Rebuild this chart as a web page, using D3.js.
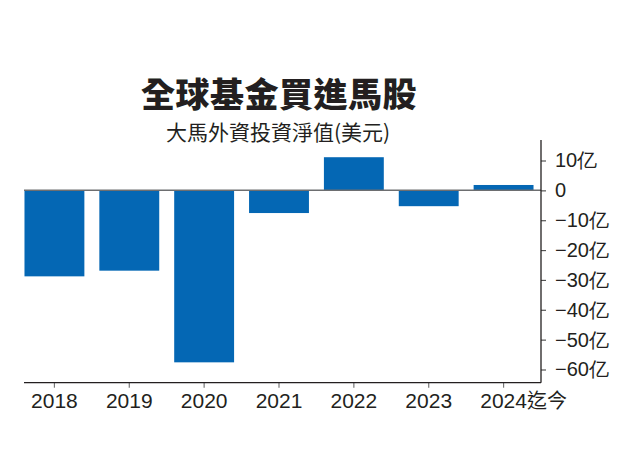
<!DOCTYPE html>
<html>
<head>
<meta charset="utf-8">
<script src="https://cdn.jsdelivr.net/npm/d3@7"></script>
<style>
  body { margin: 0; background: #fff; }
  svg text { fill: #231f20; }
</style>
</head>
<body>
<div id="chart"></div>
<script>
// data
var years = ["2018", "2019", "2020", "2021", "2022", "2023", "2024"];
var values = [-28.8, -26.9, -57.6, -7.6, 11.1, -5.3, 1.8];
var yTicks = [10, 0, -10, -20, -30, -40, -50, -60];
var lastSuffix = "迄今";

var width = 630, height = 472;
var numFont = "'Liberation Sans', Arial, sans-serif";
var cjkFont = "'Noto Sans CJK TC', 'Noto Sans CJK SC', sans-serif";

var svg = d3.select("#chart").append("svg")
    .attr("width", width)
    .attr("height", height);

// titles
svg.append("text")
    .attr("x", 279).attr("y", 107)
    .attr("text-anchor", "middle")
    .style("font-family", cjkFont)
    .style("font-weight", 900)
    .style("font-size", "34px")
    .style("letter-spacing", "0.5px")
    .text("全球基金買進馬股");

svg.append("text")
    .attr("x", 278).attr("y", 140)
    .attr("text-anchor", "middle")
    .style("font-family", cjkFont)
    .style("font-size", "21px")
    .text("大馬外資投資淨值(美元)");

var x = d3.scaleBand()
    .domain(years)
    .range([17, 541])
    .paddingInner(0.2)
    .paddingOuter(0.1);

var y = d3.scaleLinear()
    .domain([-60, 10])
    .range([369.5, 160.5]);

var axisX = 541, baseY = 382.7;

// bars
svg.append("g")
    .selectAll("rect")
    .data(values)
    .join("rect")
    .attr("x", function(d, i) { return x(years[i]); })
    .attr("width", x.bandwidth())
    .attr("y", function(d) { return y(Math.max(0, d)); })
    .attr("height", function(d) { return Math.abs(y(d) - y(0)); })
    .attr("fill", "#0467b4");

// zero line
svg.append("line")
    .attr("x1", 24).attr("x2", axisX)
    .attr("y1", y(0)).attr("y2", y(0))
    .attr("stroke", "#6d6e70")
    .attr("stroke-width", 1.5);

// y axis on the right
var gy = svg.append("g")
    .attr("transform", "translate(" + axisX + ",0)")
    .call(d3.axisRight(y)
        .tickValues(yTicks)
        .tickSize(5)
        .tickPadding(9)
        .tickFormat(function(d) { return d === 0 ? "0" : (d < 0 ? "\u2212" + (-d) : d) + "亿"; }));
gy.select(".domain").remove();
gy.selectAll(".tick line").attr("stroke", "#555").attr("stroke-width", 1.2);
gy.selectAll(".tick text")
    .style("font-family", numFont)
    .style("font-size", "20px")
    .attr("fill", "#231f20");

svg.append("line")
    .attr("x1", axisX).attr("x2", axisX)
    .attr("y1", 140).attr("y2", baseY)
    .attr("stroke", "#231f20")
    .attr("stroke-width", 1.3);

// x axis
var gx = svg.append("g")
    .attr("transform", "translate(0," + baseY + ")")
    .call(d3.axisBottom(x).tickSize(5).tickPadding(0));
gx.select(".domain").remove();
gx.selectAll(".tick line").attr("stroke", "#777").attr("stroke-width", 1.2);
gx.selectAll(".tick text")
    .attr("y", 25.5)
    .attr("dy", 0)
    .style("font-family", numFont)
    .style("font-size", "21px")
    .attr("fill", "#231f20");

// last label: centre the year on its tick, suffix trails after
var lastText = gx.selectAll(".tick text").filter(function(d) { return d === years[years.length - 1]; });
lastText.text(null);
lastText.append("tspan").text(years[years.length - 1]);
lastText.append("tspan").style("font-family", cjkFont).style("font-size", "20px").text(lastSuffix);
var yearLen = lastText.node().getSubStringLength(0, 4);
lastText.attr("text-anchor", "start").attr("x", -yearLen / 2);

svg.append("line")
    .attr("x1", 24).attr("x2", axisX)
    .attr("y1", baseY).attr("y2", baseY)
    .attr("stroke", "#231f20")
    .attr("stroke-width", 1.3);
</script>
</body>
</html>
